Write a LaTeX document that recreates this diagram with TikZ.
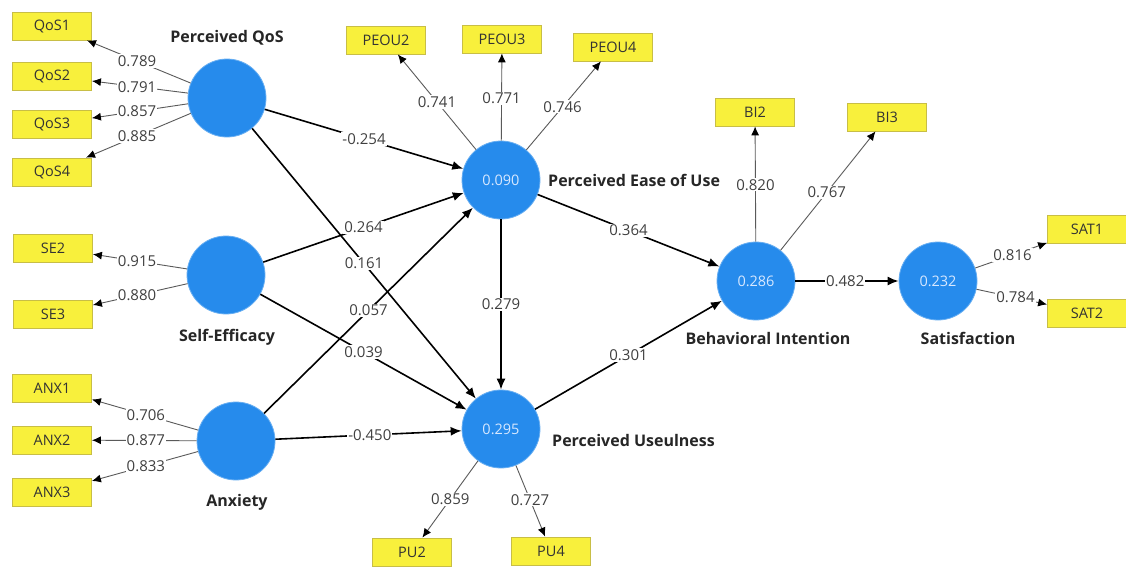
\documentclass[tikz,border=0pt]{standalone}
\usepackage{fontspec}
\setmainfont{Open Sans}
\usetikzlibrary{arrows.meta,calc}
\definecolor{lvblue}{RGB}{38,139,236}
\definecolor{boxfill}{RGB}{248,240,60}
\definecolor{boxdraw}{RGB}{200,190,70}
\definecolor{measline}{RGB}{90,90,90}
\definecolor{valtext}{RGB}{215,232,255}
\tikzset{
  lv/.style={circle, fill=lvblue, draw=lvblue!70!white, line width=0.8pt, minimum size=78pt, inner sep=0pt, text=valtext, font=\fontsize{14.5}{14.5}\selectfont},
  ind/.style={rectangle, fill=boxfill, draw=boxdraw, line width=0.8pt, minimum width=79pt, minimum height=28pt, inner sep=0pt, text=black!80, font=\fontsize{14.5}{15}\selectfont},
  meas/.style={draw=measline, line width=0.9pt, -{Latex[length=9pt,width=8pt,color=black]}},
  strpath/.style={draw=black, line width=1.6pt, -{Latex[length=11pt,width=9pt]}},
  coef/.style={fill=white, inner sep=1pt, text=black!75, font=\fontsize{15}{15}\selectfont},
  lvname/.style={font=\bfseries\fontsize{16}{16}\selectfont, text=black!85, inner sep=0pt}
}
\begin{document}
\begin{tikzpicture}[x=1pt,y=-1pt]
\useasboundingbox[fill=white] (0,0) rectangle (1126,568);
% latent variables
\node[lv] (qos) at (227,98) {};
\node[lv] (se) at (226,275) {};
\node[lv] (anx) at (236,441) {};
\node[lv] (peou) at (501,180) {0.090};
\node[lv] (pu) at (501,429) {0.295};
\node[lv] (bi) at (756,281) {0.286};
\node[lv] (sat) at (938,281) {0.232};
% names
\node[lvname] (nqos) at (227,38) {Perceived QoS};
\node[lvname] (nse) at (227,337) {Self-Efficacy};
\node[lvname] (nanx) at (237,502) {Anxiety};
\node[lvname, anchor=west] (npeou) at (548,180) {Perceived Ease of Use};
\node[lvname, anchor=west] (npu) at (552,440) {Perceived Useulness};
\node[lvname] (nbi) at (768,338) {Behavioral Intention};
\node[lvname] (nsat) at (968,338) {Satisfaction};
% indicators
\node[ind] (qos1) at (52,26) {QoS1};
\node[ind] (qos2) at (52,76) {QoS2};
\node[ind] (qos3) at (52,124) {QoS3};
\node[ind] (qos4) at (52,172) {QoS4};
\node[ind] (se2) at (53,248) {SE2};
\node[ind] (se3) at (53,314) {SE3};
\node[ind] (anx1) at (52,388) {ANX1};
\node[ind] (anx2) at (52,440) {ANX2};
\node[ind] (anx3) at (52,492) {ANX3};
\node[ind] (peou2) at (386,40) {PEOU2};
\node[ind] (peou3) at (502,39) {PEOU3};
\node[ind] (peou4) at (613,47) {PEOU4};
\node[ind] (pu2) at (412,552) {PU2};
\node[ind] (pu4) at (551,551) {PU4};
\node[ind] (bi2) at (755,112) {BI2};
\node[ind] (bi3) at (887,117) {BI3};
\node[ind] (sat1) at (1087,229) {SAT1};
\node[ind] (sat2) at (1087,313) {SAT2};
% measurement arrows
\foreach \a/\b in {qos/qos1,qos/qos2,qos/qos3,qos/qos4,se/se2,se/se3,anx/anx1,anx/anx2,anx/anx3,peou/peou2,peou/peou3,peou/peou4,pu/pu2,pu/pu4,bi/bi2,bi/bi3,sat/sat1,sat/sat2}
  \draw[meas] (\a) -- (\b);
% loadings
\node[coef] (l1) at ($(qos)!0.514!(qos1)$) {0.789};
\node[coef] (l2) at ($(qos)!0.514!(qos2)$) {0.791};
\node[coef] (l3) at ($(qos)!0.514!(qos3)$) {0.857};
\node[coef] (l4) at ($(qos)!0.514!(qos4)$) {0.885};
\node[coef] (l5) at ($(se)!0.514!(se2)$) {0.915};
\node[coef] (l6) at ($(se)!0.514!(se3)$) {0.880};
\node[coef] (l7) at ($(anx)!0.49!(anx1)$) {0.706};
\node[coef] (l8) at ($(anx)!0.49!(anx2)$) {0.877};
\node[coef] (l9) at ($(anx)!0.49!(anx3)$) {0.833};
\node[coef] (l10) at ($(peou)!0.557!(peou2)$) {0.741};
\node[coef] (l11) at ($(peou)!0.58!(peou3)$) {0.771};
\node[coef] (l12) at ($(peou)!0.55!(peou4)$) {0.746};
\node[coef] (l13) at ($(pu)!0.57!(pu2)$) {0.859};
\node[coef] (l14) at ($(pu)!0.58!(pu4)$) {0.727};
\node[coef] (l15) at ($(bi)!0.57!(bi2)$) {0.820};
\node[coef] (l16) at ($(bi)!0.54!(bi3)$) {0.767};
\node[coef] (l17) at ($(sat)!0.50!(sat1)$) {0.816};
\node[coef] (l18) at ($(sat)!0.52!(sat2)$) {0.784};
% structural paths
\draw[strpath] (qos) -- (peou);
\draw[strpath] (qos) -- (pu);
\draw[strpath] (se) -- (peou);
\draw[strpath] (se) -- (pu);
\draw[strpath] (anx) -- (peou);
\draw[strpath] (anx) -- (pu);
\draw[strpath] (peou) -- (pu);
\draw[strpath] (peou) -- (bi);
\draw[strpath] (pu) -- (bi);
\draw[strpath] (bi) -- (sat);
\node[coef] (p1) at ($(qos)!0.5!(peou)$) {-0.254};
\node[coef] (p2) at ($(qos)!0.5!(pu)$) {0.161};
\node[coef] (p3) at ($(se)!0.5!(peou)$) {0.264};
\node[coef] (p4) at ($(se)!0.5!(pu)$) {0.039};
\node[coef] (p5) at ($(anx)!0.5!(peou)$) {0.057};
\node[coef] (p6) at ($(anx)!0.505!(pu)$) {-0.450};
\node[coef] (p7) at ($(peou)!0.5!(pu)$) {0.279};
\node[coef] (p8) at ($(peou)!0.5!(bi)$) {0.364};
\node[coef] (p9) at ($(pu)!0.5!(bi)$) {0.301};
\node[coef] (p10) at ($(bi)!0.49!(sat)$) {0.482};
\end{tikzpicture}
\end{document}
